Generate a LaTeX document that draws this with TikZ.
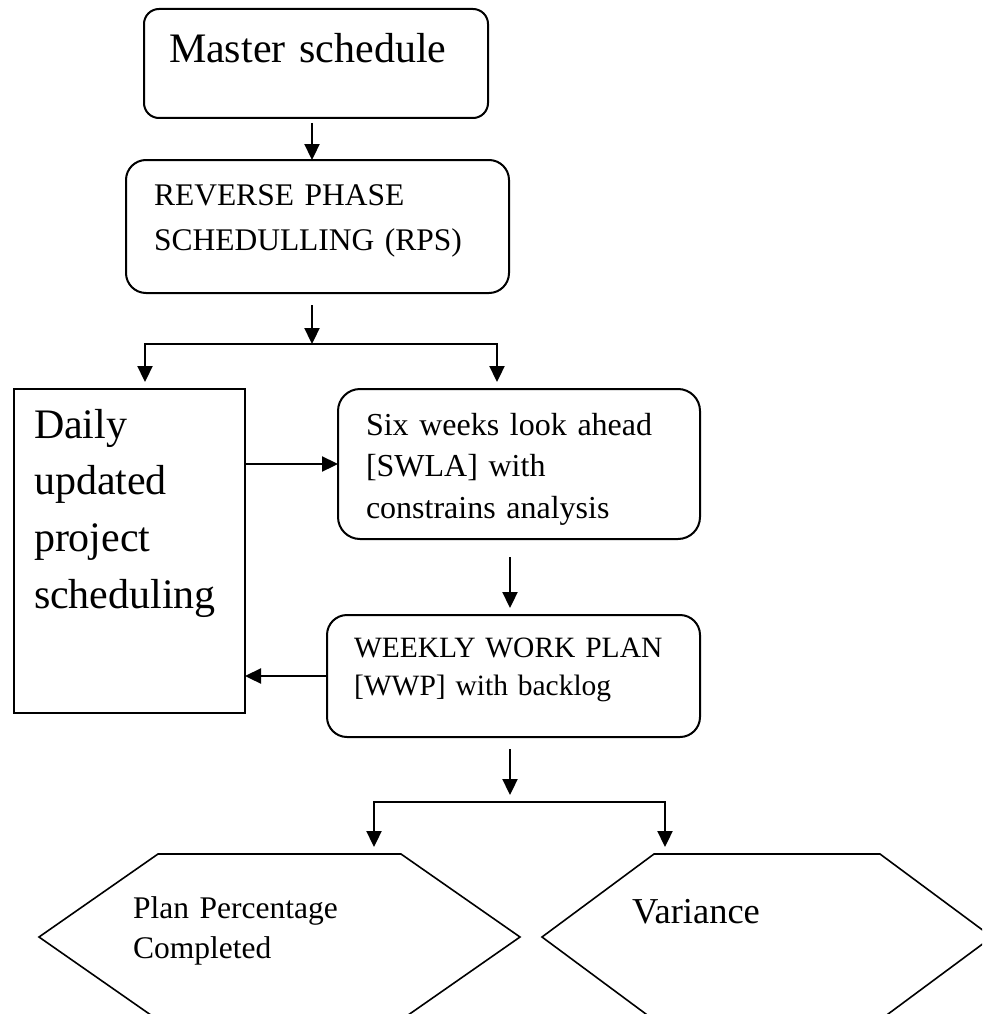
\documentclass[tikz,border=0pt]{standalone}
\usepackage{fontspec}
\setmainfont{Liberation Serif}
\usepackage{tikz}
\usetikzlibrary{arrows.meta}
\newcommand{\fsize}[2]{\fontsize{#1}{#2}\selectfont}

\begin{document}
\begin{tikzpicture}[x=1pt,y=-1pt,
        box/.style={draw,line width=2pt,anchor=north west,align=left,inner ysep=0pt,outer sep=0pt},
        rbox/.style={box,rounded corners=15pt},
        arr/.style={line width=2.3pt,-{Triangle[length=16pt,width=15pt]}},
        twoarr/.style={line width=2.3pt,{Triangle[length=16pt,width=15pt]}-{Triangle[length=16pt,width=15pt]}},
        hexa/.style={line width=1.6pt,line join=miter},
        lbl/.style={anchor=base west,align=left,inner sep=0pt}]
        \useasboundingbox (0,0) rectangle (982,1014);
        \clip (0,0) rectangle (982,1014);
        \node[rbox,inner xsep=25pt,text width=294pt,text height=54pt,text depth=55pt,font=\fsize{42}{50}] (ms) at (144,9) {Master schedule};
        \node[rbox,rounded corners=20pt,inner xsep=28pt,text width=327pt,text height=45pt,text depth=88pt,font=\fsize{31.5}{45}] (rps) at (126,160) {REVERSE PHASE\\SCHEDULLING (RPS)};
        \node[box,inner xsep=20pt,text width=191pt,text height=49pt,text depth=275pt,font=\fsize{42}{56.7}] (dly) at (14,389) {Daily\\updated\\project\\scheduling};
        \node[rbox,rounded corners=22pt,inner xsep=28pt,text width=306pt,text height=46pt,text depth=104pt,font=\fsize{32}{41.5}] (sw) at (338,389) {Six weeks look ahead\\{[}SWLA] with\\constrains analysis};
        \node[rbox,rounded corners=20pt,inner xsep=27pt,text width=319pt,text height=42pt,text depth=80pt,font=\fsize{29.5}{38}] (wwp) at (327,615) {WEEKLY WORK PLAN\\{[}WWP] with backlog};
        \draw[hexa] (158,854) -- (401,854) -- (520,937) -- (401,1020) -- (158,1020) -- (39,937) -- cycle;
        \draw[hexa] (654,854) -- (880,854) -- (992,937) -- (880,1020) -- (654,1020) -- (542,937) -- cycle;
        \node[lbl,text width=240pt,font=\fsize{31.5}{40}] (ppc) at (133,918) {Plan Percentage\\Completed};
        \node[lbl,text width=150pt,font=\fsize{36.5}{44}] (var) at (632,923) {Variance};
        \coordinate (split1) at (312,344);
        \coordinate (dly top) at (145,389);
        \coordinate (sw top) at (497,389);
        \coordinate (split2) at (510,802);
        \coordinate (ppc top) at (374,854);
        \coordinate (var top) at (665,854);
        \draw[arr,shorten <=5pt] (ms.south -| split1) -- (rps.north -| split1);
        \draw[arr,shorten <=12pt] (rps.south -| split1) -- (split1);
        \draw[twoarr,shorten <=7pt,shorten >=7pt] (dly top) -- (dly top |- split1) -- (sw top |- split1) -- (sw top);
        \draw[arr] (dly.east |- sw.west) -- (sw.west);
        \draw[arr,shorten <=18pt,shorten >=7pt] (sw.south -| split2) -- (wwp.north -| split2);
        \draw[arr] (wwp.west) -- (wwp.west -| dly.east);
        \draw[arr,shorten <=12pt,shorten >=7pt] (wwp.south -| split2) -- (split2);
        \draw[twoarr,shorten <=7pt,shorten >=7pt] (ppc top) -- (ppc top |- split2) -- (var top |- split2) -- (var top);
\end{tikzpicture}
\end{document}
